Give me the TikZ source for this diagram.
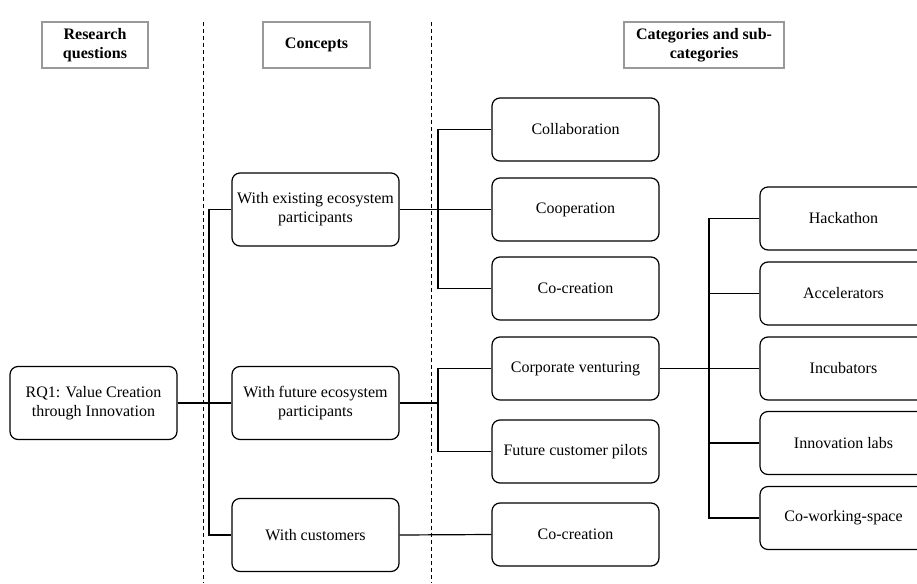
\documentclass[tikz,border=0pt]{standalone}
\usepackage{fontspec}
\setmainfont{Liberation Serif}

\tikzset{
  box/.style={draw, rounded corners=8pt, line width=1.2pt, minimum width=167pt,
    minimum height=63pt, align=center, inner sep=2pt,
    font=\fontsize{16}{19}\selectfont},
  tallbox/.style={box, minimum height=73pt},
  headbox/.style={draw=black!40, line width=1.2pt, minimum height=46pt,
    align=center, inner sep=2pt, font=\bfseries\fontsize{16}{19}\selectfont},
  link/.style={line width=1.2pt},
  divider/.style={line width=0.9pt, dash pattern=on 4pt off 3pt}
}

\begin{document}
\begin{tikzpicture}[x=1pt,y=-1pt]
  \useasboundingbox (0,0) rectangle (917,583);
  \clip (0,0) rectangle (917,583);

  % column headers
  \node[headbox, minimum width=106pt] (hRQ) at (95,45) {Research\\questions};
  \node[headbox, minimum width=107pt] (hCon) at (316.5,45) {Concepts};
  \node[headbox, minimum width=160pt] (hCat) at (704,45) {Categories and sub-\\categories};

  % separators
  \draw[divider] (203,22) -- (203,583);
  \draw[divider] (431,22) -- (431,583);

  % research question and concepts
  \node[tallbox] (rq) at (93.5,403) {RQ1: Value Creation\\through Innovation};
  \node[tallbox] (exist) at (315.5,209.5) {With existing ecosystem\\participants};
  \node[tallbox] (future) at (315.5,403) {With future ecosystem\\participants};
  \node[tallbox] (cust) at (315.5,535) {With customers};

  % categories
  \node[box] (collab) at (575.5,129.5) {Collaboration};
  \node[box] (coop) at (575.5,209.5) {Cooperation};
  \node[box] (cocrA) at (575.5,288.5) {Co-creation};
  \node[box] (corp) at (575.5,368.5) {Corporate venturing};
  \node[box] (pilot) at (575.5,451.5) {Future customer pilots};
  \node[box] (cocrB) at (575.5,534.5) {Co-creation};

  % sub-categories
  \node[box] (hack) at (843.5,218.5) {Hackathon};
  \node[box] (accel) at (843.5,293.5) {Accelerators};
  \node[box] (incub) at (843.5,368.5) {Incubators};
  \node[box] (lab) at (843.5,443) {Innovation labs};
  \node[box] (cowork) at (843.5,518) {Co-working-space};

  \coordinate (trunkA) at (209,0);
  \coordinate (trunkB) at (438,0);
  \coordinate (trunkC) at (709,0);

  % tree links
  \draw[link] (rq.east) -- (future.west);
  \draw[link] (exist.west) -- (exist.west -| trunkA) |- (cust.west);

  \draw[link] (exist.east) -- (coop.west);
  \draw[link] (collab.west) -- (collab.west -| trunkB) |- (cocrA.west);
  \draw[link] (future.east) -- (future.east -| trunkB);
  \draw[link] (corp.west) -- (corp.west -| trunkB) |- (pilot.west);
  \draw[link] (cust.east) -- (cocrB.west);

  \draw[link] (corp.east) -- (incub.west);
  \draw[link] (hack.west) -- (hack.west -| trunkC) |- (cowork.west);
  \draw[link] (accel.west) -- (accel.west -| trunkC);
  \draw[link] (lab.west) -- (lab.west -| trunkC);
\end{tikzpicture}
\end{document}
